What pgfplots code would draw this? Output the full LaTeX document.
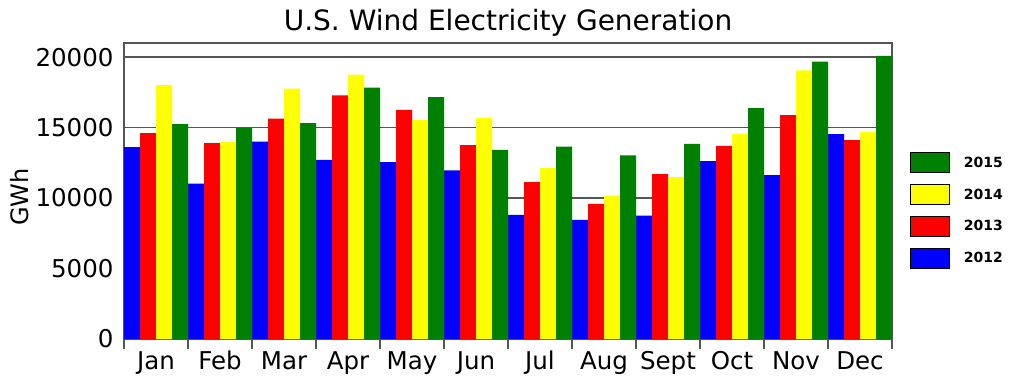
\documentclass[border=0pt]{standalone}
\usepackage{pgfplots}
\pgfplotsset{compat=1.18}
\usepackage{fontspec}
\setmainfont{DejaVu Sans}
\definecolor{axgray}{HTML}{555555}
\definecolor{cblue}{HTML}{0000FF}
\definecolor{cred}{HTML}{FF0000}
\definecolor{cyellow}{HTML}{FFFF00}
\definecolor{cgreen}{HTML}{008000}
\pgfplotsset{mylegend/.style={legend image code/.code={\draw[##1,draw=black,line width=0.8pt] (0pt,-10pt) rectangle (39pt,10pt);}}}
\begin{document}
\begin{tikzpicture}[x=1pt,y=1pt]
\useasboundingbox (0,0) rectangle (1024,384);
\begin{axis}[
 at={(124pt,45pt)}, anchor=south west,
 scale only axis, width=768pt, height=296pt,
 ybar=0pt, bar width=16pt,
 xmin=-0.5, xmax=11.5, ymin=0, ymax=21000,
 xtick={-0.5,0.5,1.5,2.5,3.5,4.5,5.5,6.5,7.5,8.5,9.5,10.5,11.5},
 x tick label as interval,
 xticklabels={Jan,Feb,Mar,Apr,May,Jun,Jul,Aug,Sept,Oct,Nov,Dec},
 xtick pos=lower,
 ytick pos=left,
 ytick={0,5000,10000,15000,20000},
 ymajorgrids, grid style={axgray, line width=1.2pt},
 tick align=outside, major tick length=10pt,
 xtick style={draw=axgray, line width=1.2pt},
 ytick style={draw=none},
 axis line style={axgray, line width=1.2pt},
 scaled y ticks=false,
 /pgf/number format/assume math mode=true,
 yticklabel style={/pgf/number format/1000 sep={}},
 tick label style={font=\fontsize{24.5}{28}\selectfont},
 xticklabel style={text height=18pt, text depth=5pt},
 xticklabel shift=-1pt,
 yticklabel shift=-3pt,
 ylabel={GWh},
 every axis y label/.style={at={(axis description cs:-0.136,0.48)}, rotate=90, anchor=center, font=\fontsize{24}{28}\selectfont},
 title={U.S. Wind Electricity Generation},
 title style={font=\fontsize{28}{32}\selectfont, at={(axis description cs:0.5,1)}, anchor=base, yshift=7pt},
 legend style={at={(axis description cs:1.0195,0.638)}, anchor=north west, draw=none, fill=none, font=\fontsize{14}{16}\selectfont\bfseries, row sep=11pt, /tikz/every odd column/.append style={column sep=12pt}},
 legend cell align=left,
 reverse legend,
]
\addplot[fill=cblue, draw=none, mylegend] coordinates {(0,13610) (1,11030) (2,14010) (3,12710) (4,12550) (5,11960) (6,8810) (7,8450) (8,8760) (9,12620) (10,11630) (11,14540)};
\addplot[fill=cred, draw=none, mylegend] coordinates {(0,14610) (1,13900) (2,15630) (3,17280) (4,16260) (5,13750) (6,11130) (7,9590) (8,11700) (9,13710) (10,15890) (11,14110)};
\addplot[fill=cyellow, draw=none, mylegend] coordinates {(0,18020) (1,13970) (2,17760) (3,18750) (4,15550) (5,15670) (6,12120) (7,10180) (8,11480) (9,14560) (10,19060) (11,14700)};
\addplot[fill=cgreen, draw=none, mylegend] coordinates {(0,15250) (1,14960) (2,15320) (3,17830) (4,17160) (5,13420) (6,13640) (7,13020) (8,13850) (9,16380) (10,19670) (11,20080)};
\legend{2012,2013,2014,2015}
\end{axis}
\end{tikzpicture}
\end{document}
